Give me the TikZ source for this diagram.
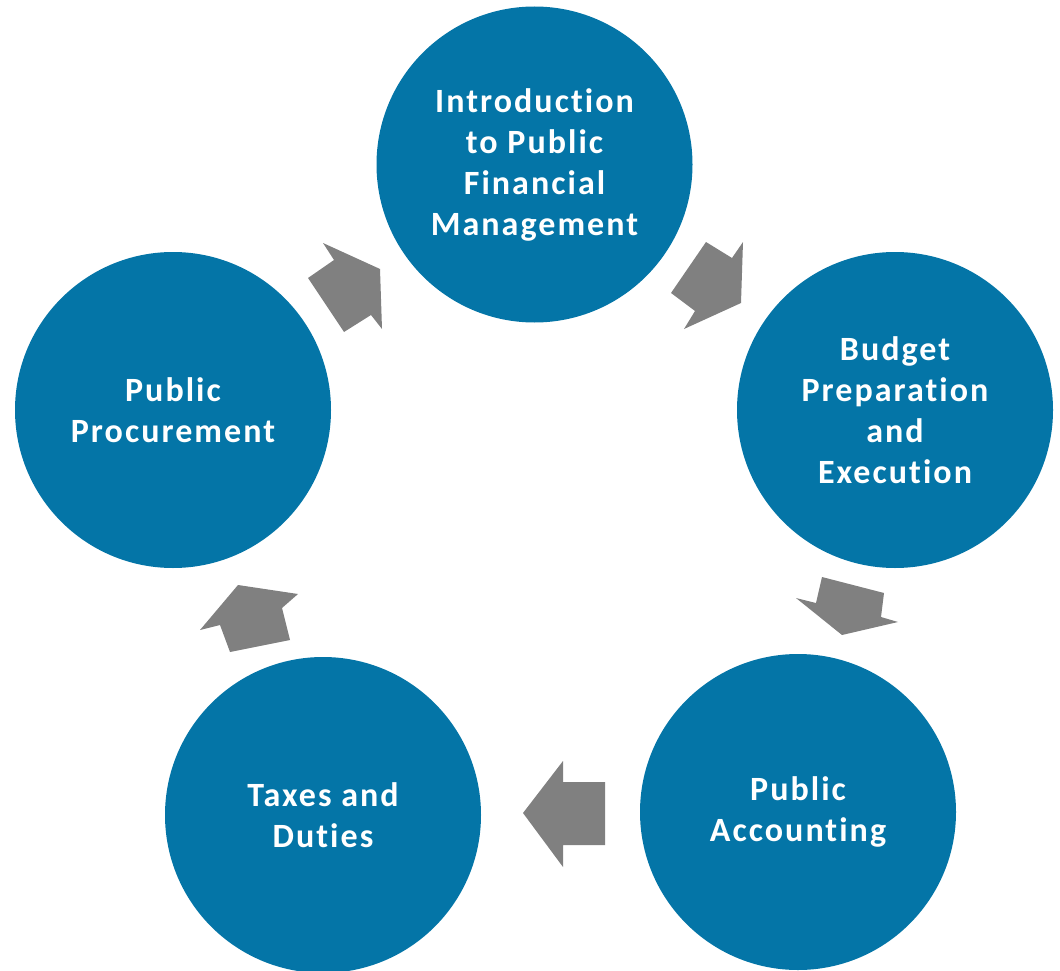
\documentclass[tikz,border=0pt]{standalone}
\usepackage{fontspec}
\setmainfont[RawFeature=-liga,LetterSpace=6]{Carlito}
\definecolor{cblue}{RGB}{4,117,167}
\definecolor{agray}{RGB}{128,128,128}
\begin{document}
\begin{tikzpicture}[x=1pt,y=-1pt,
  stage/.style={circle,fill=cblue,minimum size=316pt,inner sep=0pt,text=white,
    font=\fontsize{34}{41}\selectfont\bfseries,align=center},
  blockarrow/.style={fill=agray,draw=none}]
\useasboundingbox (0,0) rectangle (1060,971);
\node[stage] (ipfm) at (534.5,164.5) {Introduction\\to Public\\Financial\\Management};
\node[stage] (bpe) at (895,410) {Budget\\Preparation\\and\\Execution};
\node[stage] (pa) at (798,812) {Public\\Accounting};
\node[stage] (td) at (323,815) {Taxes and\\Duties};
\node[stage] (pp) at (173,410) {Public\\Procurement};
% arrows
\fill[blockarrow] (308,278) -- (334,260) -- (323,243) -- (380,269) -- (382,329) -- (371,315) -- (344,332) -- cycle;
\fill[blockarrow] (671,293) -- (706,242) -- (732,258) -- (743,242) -- (741,303) -- (684,329) -- (695,311) -- cycle;
\fill[blockarrow] (822,577) -- (884,593) -- (881,617) -- (898,622) -- (842,635) -- (796,598) -- (816,603) -- cycle;
\fill[blockarrow] (605,782) -- (605,845) -- (563,845) -- (563,867) -- (523,813) -- (563,761) -- (563,782) -- cycle;
\fill[blockarrow] (200,630) -- (238,585) -- (298,594) -- (282,608) -- (290,640) -- (230,652) -- (220,625) -- cycle;
\end{tikzpicture}
\end{document}
